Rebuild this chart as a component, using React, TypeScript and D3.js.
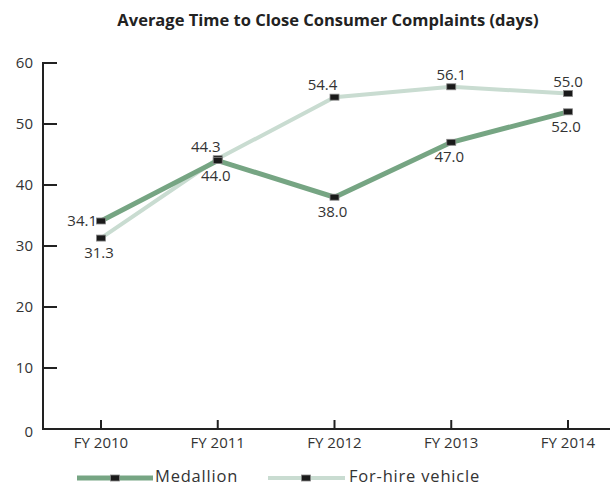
import React from "react";
import * as d3 from "d3";

const years = ["FY 2010", "FY 2011", "FY 2012", "FY 2013", "FY 2014"];
const medallion = [34.1, 44.0, 38.0, 47.0, 52.0];
const forHire = [31.3, 44.3, 54.4, 56.1, 55.0];
const yTicks = [0, 10, 20, 30, 40, 50, 60];

// where each value label sits relative to its marker
const medallionLabelPos = ["left", "below", "below", "below", "below"];
const forHireLabelPos = ["below", "aboveLeft", "aboveLeft", "above", "above"];

const W = 610;
const H = 487;
const FONT = "'Open Sans', 'Noto Sans', sans-serif";

const x = d3.scalePoint<string>().domain(years).range([101, 568]);
const y = d3.scaleLinear().domain([0, 60]).range([429, 63]);

const labelOffset = (pos: string) => {
    switch (pos) {
        case "left":
            return { dx: -4, dy: 5, anchor: "end" };
        case "above":
            return { dx: 0, dy: -7, anchor: "middle" };
        case "aboveLeft":
            return { dx: -12, dy: -7, anchor: "middle" };
        default:
            return { dx: -2, dy: 20, anchor: "middle" };
    }
};

const Series: React.FC<{ values: number[]; pos: string[]; color: string; width: number }> = ({
    values,
    pos,
    color,
    width,
}) => {
    const line = d3
        .line<number>()
        .x((_, i) => x(years[i])!)
        .y((d) => y(d));
    return (
        <g>
            <path d={line(values)!} fill="none" stroke={color} strokeWidth={width} />
            {values.map((v, i) => {
                const o = labelOffset(pos[i]);
                return (
                    <g key={i}>
                        <rect
                            x={x(years[i])! - 4.5}
                            y={y(v) - 3}
                            width={9}
                            height={6}
                            fill="#1a1a1a"
                            stroke="#888"
                            strokeWidth={0.8}
                        />
                        <text
                            x={x(years[i])! + o.dx}
                            y={y(v) + o.dy}
                            textAnchor={o.anchor}
                            fontSize={15}
                            fill="#333"
                        >
                            {v.toFixed(1)}
                        </text>
                    </g>
                );
            })}
        </g>
    );
};

const App: React.FC = () => {
    const green = "#76a583";
    const light = "#c9dcd1";
    return (
        <svg
            width={W}
            height={H}
            style={{ position: "absolute", left: 0, top: 0, background: "#fff" }}
            fontFamily={FONT}
        >
            <text x={328} y={26} textAnchor="middle" fontWeight="bold" fontSize={16.5} fill="#222">
                Average Time to Close Consumer Complaints (days)
            </text>

            {/* y axis */}
            <line x1={43} x2={43} y1={y(60) - 1} y2={y(0) + 1} stroke="#222" strokeWidth={2} />
            {yTicks.map((t) => (
                <g key={t}>
                    {t > 0 && <line x1={43} x2={57} y1={y(t)} y2={y(t)} stroke="#222" strokeWidth={2} />}
                    <text x={33} y={y(t) + (t === 0 ? 8 : 5)} textAnchor="end" fontSize={15} fill="#333">
                        {t}
                    </text>
                </g>
            ))}

            {/* x axis */}
            <line x1={42} x2={W} y1={y(0)} y2={y(0)} stroke="#222" strokeWidth={2} />
            {years.map((c) => (
                <g key={c}>
                    <line x1={x(c)!} x2={x(c)!} y1={y(0)} y2={y(0) - 9} stroke="#222" strokeWidth={2} />
                    <text x={x(c)!} y={y(0) + 19} textAnchor="middle" fontSize={15} fill="#333">
                        {c}
                    </text>
                </g>
            ))}

            <Series values={forHire} pos={forHireLabelPos} color={light} width={4} />
            <Series values={medallion} pos={medallionLabelPos} color={green} width={5} />

            {/* legend */}
            <g>
                <line x1={77} x2={153} y1={478} y2={478} stroke={green} strokeWidth={5} />
                <rect x={110.5} y={475} width={9} height={6} fill="#1a1a1a" stroke="#888" strokeWidth={0.8} />
                <text x={155} y={482} fontSize={16.5} letterSpacing={0.8} fill="#333">Medallion</text>
                <line x1={268} x2={345} y1={478} y2={478} stroke={light} strokeWidth={4} />
                <rect x={301.5} y={475} width={9} height={6} fill="#1a1a1a" stroke="#888" strokeWidth={0.8} />
                <text x={349} y={482} fontSize={16.5} letterSpacing={0.8} fill="#333">For-hire vehicle</text>
            </g>
        </svg>
    );
};

export default App;
